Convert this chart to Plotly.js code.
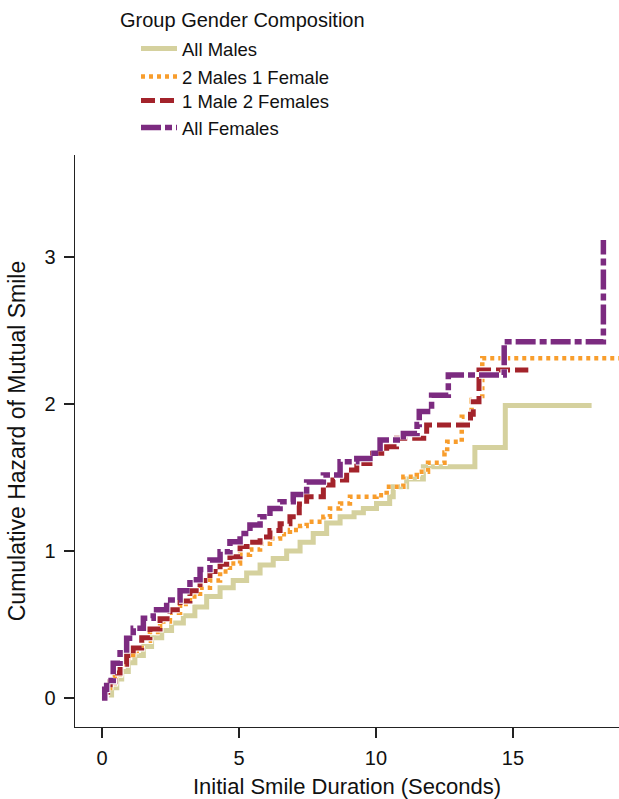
<!DOCTYPE html>
<html>
<head>
<meta charset="utf-8">
<script src="https://cdn.plot.ly/plotly-3.0.1.min.js"></script>
<style>html,body{margin:0;padding:0;background:#fff;}#chart{width:619px;height:799px;}</style>
</head>
<body>
<div id="chart"></div>
<script>
// Series names
const seriesNames = ["All Males", "2 Males 1 Female", "1 Male 2 Females", "All Females"];
const legendTitle = "Group Gender Composition";
const xTitle = "Initial Smile Duration (Seconds)";
const yTitle = "Cumulative Hazard of Mutual Smile";
const xTicks = [0, 5, 10, 15];
const yTicks = [0, 1, 2, 3];

// All Males (step times, cumulative hazard after step)
const xAllMales = [0, 0.15, 0.35, 0.54, 0.72, 0.96, 1.2, 1.51, 1.81, 2.18, 2.54, 2.97, 3.39, 3.82, 4.31, 4.79, 5.28, 5.77, 6.25, 6.74, 7.23, 7.71, 8.2, 8.69, 9.2, 9.54, 10.02, 10.5, 10.63, 11.12, 11.73, 13.61, 14.72, 17.87];
const yAllMales = [0, 0.02, 0.07, 0.13, 0.18, 0.24, 0.29, 0.35, 0.41, 0.46, 0.51, 0.56, 0.62, 0.69, 0.75, 0.80, 0.85, 0.905, 0.95, 1.0, 1.06, 1.12, 1.19, 1.233, 1.26, 1.29, 1.324, 1.37, 1.437, 1.49, 1.573, 1.705, 1.99, 1.99];

// 2 Males 1 Female
const x2M1F = [0, 0.12, 0.3, 0.47, 0.66, 0.9, 1.14, 1.45, 1.75, 2.12, 2.48, 2.85, 3.21, 3.58, 3.94, 4.31, 4.67, 5.04, 5.4, 5.77, 6.13, 6.5, 6.86, 7.23, 7.47, 8.08, 8.32, 8.69, 9.05, 10.02, 10.39, 11.0, 11.49, 11.9, 12.5, 12.6, 13.13, 13.49, 13.88, 18.87];
const y2M1F = [0, 0.04, 0.10, 0.16, 0.21, 0.27, 0.32, 0.39, 0.45, 0.52, 0.58, 0.64, 0.69, 0.75, 0.80, 0.86, 0.916, 0.975, 1.01, 1.05, 1.085, 1.115, 1.143, 1.17, 1.2, 1.233, 1.29, 1.324, 1.37, 1.38, 1.437, 1.505, 1.54, 1.6, 1.67, 1.743, 1.914, 2.027, 2.311, 2.311];

// 1 Male 2 Females
const x1M2F = [0, 0.12, 0.3, 0.47, 0.66, 0.9, 1.14, 1.45, 1.75, 2.12, 2.48, 2.85, 3.21, 3.58, 3.94, 4.31, 4.67, 5.04, 5.4, 5.77, 6.13, 6.5, 6.86, 7.2, 7.47, 8.08, 8.43, 8.93, 9.3, 9.78, 10.39, 10.75, 11.85, 13.45, 13.55, 13.76, 15.56];
const y1M2F = [0, 0.04, 0.11, 0.17, 0.23, 0.29, 0.34, 0.41, 0.47, 0.54, 0.60, 0.66, 0.73, 0.80, 0.86, 0.91, 0.961, 1.03, 1.06, 1.095, 1.14, 1.185, 1.233, 1.32, 1.37, 1.449, 1.483, 1.551, 1.596, 1.665, 1.71, 1.767, 1.857, 1.93, 2.016, 2.231, 2.231];

// All Females
const xAllFemales = [0, 0.1, 0.17, 0.41, 0.66, 0.9, 1.14, 1.51, 1.87, 2.36, 2.85, 3.21, 3.58, 3.94, 4.31, 4.67, 5.04, 5.4, 5.77, 6.13, 6.5, 6.98, 7.47, 8.08, 8.69, 9.3, 9.78, 10.15, 11.0, 11.5, 11.58, 12.03, 12.64, 14.68, 18.3];
const yAllFemales = [0, 0.06, 0.12, 0.236, 0.327, 0.406, 0.474, 0.542, 0.60, 0.667, 0.73, 0.805, 0.875, 0.939, 0.995, 1.063, 1.12, 1.177, 1.233, 1.29, 1.335, 1.385, 1.47, 1.517, 1.607, 1.63, 1.665, 1.755, 1.80, 1.86, 1.95, 2.06, 2.197, 2.424, 3.115];

const xs = [xAllMales, x2M1F, x1M2F, xAllFemales];
const ys = [yAllMales, y2M1F, y1M2F, yAllFemales];
const colors = ["#d5d19e", "#f89d2c", "#a3232b", "#7c2b80"];
const widths = [5, 4.5, 5, 5.5];
const dashes = ["solid", "4px,4px", "14px,5px", "20px,4px,7px,4px"];
const legendIds = ["legend", "legend2", "legend3", "legend4"];

const FONT = "Liberation Sans, Arial, sans-serif";
const traces = [];
for (let i = 0; i < 4; i++) {
  traces.push({
    x: xs[i], y: ys[i], type: "scatter", mode: "lines",
    line: {shape: "hv", color: "#ffffff", width: widths[i] + 2, dash: dashes[i]},
    showlegend: false, hoverinfo: "skip"
  });
  traces.push({
    x: xs[i], y: ys[i], type: "scatter", mode: "lines", name: seriesNames[i],
    line: {shape: "hv", color: colors[i], width: widths[i], dash: dashes[i]},
    legend: legendIds[i]
  });
}

// legend item pixel centres -> paper coords
const plotTop = 155, plotBottom = 727, plotLeft = 75, plotRight = 619;
function py(p) { return (plotBottom - p) / (plotBottom - plotTop); }
function px(p) { return (p - plotLeft) / (plotRight - plotLeft); }
const itemCentres = [49, 77, 101, 128];

const legendBase = {
  xanchor: "left", yanchor: "middle", bgcolor: "rgba(0,0,0,0)",
  font: {family: FONT, size: 18.5, color: "#111"}, itemwidth: 36,
  borderwidth: 0
};
const layout = {
  width: 619, height: 799,
  margin: {l: plotLeft, r: 619 - plotRight, t: plotTop, b: 799 - plotBottom, pad: 0},
  paper_bgcolor: "#fff", plot_bgcolor: "#fff",
  font: {family: FONT, color: "#111"},
  xaxis: {
    range: [-0.985, 18.87], tickvals: xTicks, ticktext: xTicks.map(String),
    showgrid: false, zeroline: false, showline: true, linecolor: "#222", linewidth: 1.3,
    ticks: "outside", ticklen: 10, tickcolor: "#222", tickwidth: 1.3,
    tickfont: {family: FONT, size: 20, color: "#111"}, ticklabelstandoff: 3,
    title: {text: xTitle, font: {family: FONT, size: 22, color: "#111"}, standoff: 10}
  },
  yaxis: {
    range: [-0.197, 3.694], tickvals: yTicks, ticktext: yTicks.map(String),
    showgrid: false, zeroline: false, showline: true, linecolor: "#222", linewidth: 1.3,
    ticks: "outside", ticklen: 10, tickcolor: "#222", tickwidth: 1.3,
    tickfont: {family: FONT, size: 20, color: "#111"}, ticklabelstandoff: 4,
    title: {text: yTitle, font: {family: FONT, size: 23, color: "#111"}, standoff: 12}
  },
  annotations: [{
    text: legendTitle, xref: "paper", yref: "paper", x: px(118), y: py(20),
    xanchor: "left", yanchor: "middle", showarrow: false,
    font: {family: FONT, size: 20, color: "#111"}
  }]
};
for (let i = 0; i < 4; i++) {
  layout[legendIds[i]] = Object.assign({}, legendBase, {x: px(136), y: py(itemCentres[i])});
}
Plotly.newPlot("chart", traces, layout, {displayModeBar: false, staticPlot: true});
</script>
</body>
</html>
